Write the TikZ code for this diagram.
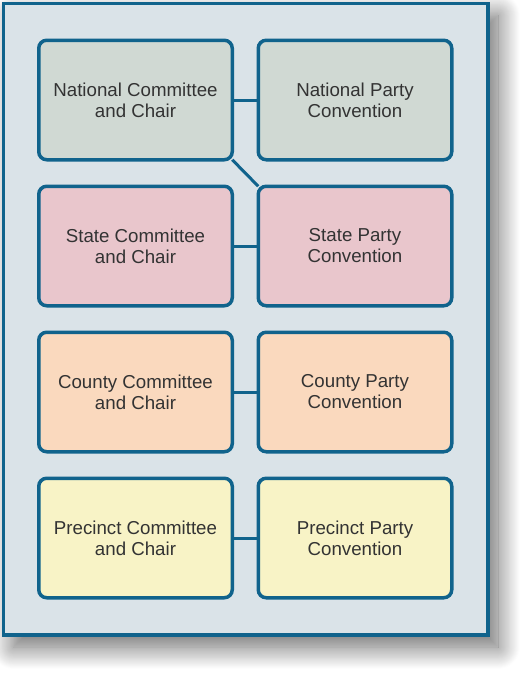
\documentclass[tikz,border=0pt]{standalone}
\usepackage{fontspec}
\setmainfont{Liberation Sans}
\usetikzlibrary{shadows.blur}

\definecolor{partyblue}{HTML}{10638C}
\definecolor{framefill}{HTML}{DAE3E8}
\definecolor{natfill}{HTML}{D0D9D3}
\definecolor{statefill}{HTML}{E9C6CC}
\definecolor{countyfill}{HTML}{FAD9BE}
\definecolor{precfill}{HTML}{F8F3C6}
\definecolor{textgrey}{HTML}{333333}

\begin{document}
\begin{tikzpicture}[
  x=1pt, y=1pt,
  box/.style={rectangle, rounded corners=8pt, draw=partyblue, line width=3.5pt, outer sep=0pt, minimum width=193.5pt, minimum height=119.5pt, align=center, font=\fontsize{18.7}{21}\selectfont, text=textgrey},
  link/.style={draw=partyblue, line width=3pt},
  node distance=146pt
]
\useasboundingbox (0,0) rectangle (525,-673);

% Frame
\draw[draw=partyblue, fill=framefill, line width=3.5pt,
  blur shadow={shadow xshift=10pt, shadow yshift=-12pt, shadow blur radius=22pt, shadow blur steps=24, shadow opacity=60}]
  (3.5,-3.5) rectangle (488,-635);

% Committees
\node[box, fill=natfill] (natcom) at (135.5,-100) {National Committee\\and Chair};
\node[box, fill=statefill, below of=natcom] (statecom) {State Committee\\and Chair};
\node[box, fill=countyfill, below of=statecom] (countycom) {County Committee\\and Chair};
\node[box, fill=precfill, below of=countycom] (preccom) {Precinct Committee\\and Chair};

% Conventions
\node[box, fill=natfill, right of=natcom, node distance=219.5pt] (natconv) {National Party\\Convention};
\node[box, fill=statefill, right of=statecom, node distance=219.5pt] (stateconv) {State Party\\Convention};
\node[box, fill=countyfill, right of=countycom, node distance=219.5pt] (countyconv) {County Party\\Convention};
\node[box, fill=precfill, right of=preccom, node distance=219.5pt] (precconv) {Precinct Party\\Convention};

% Connections
\draw[link] (natcom) -- (natconv);
\draw[link] (statecom) -- (stateconv);
\draw[link] (countycom) -- (countyconv);
\draw[link] (preccom) -- (precconv);
\draw[link] (natcom.south east) -- (stateconv.north west);
\end{tikzpicture}
\end{document}
